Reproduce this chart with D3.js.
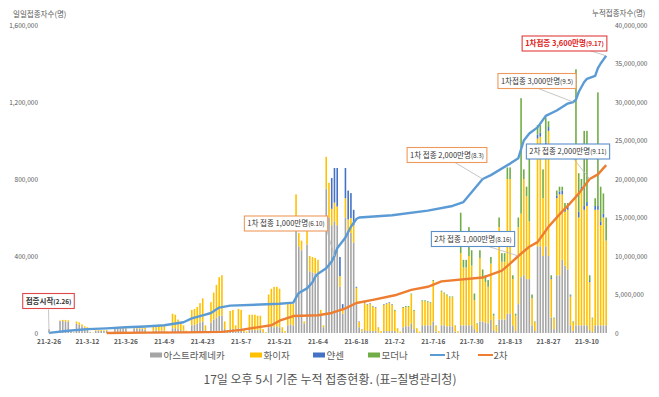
<!DOCTYPE html>
<html>
<head>
<meta charset="utf-8">
<script src="https://cdn.jsdelivr.net/npm/d3@7"></script>
<style>
  body { margin: 0; background: #fff; }
  text { font-family: "Noto Sans CJK KR", "Noto Sans", sans-serif; }
</style>
</head>
<body>
<div id="chart"></div>
<script>
// daily vaccinations (thousand persons), one line per week Fri..Thu, from 2021-02-26 to 2021-09-17
const astra = [
  19,2,1,5,62,62,60,  58,8,3,48,44,35,27,  22,4,1,10,11,11,10,  11,2,1,22,24,24,22,
  22,3,1,22,24,22,22,  18,4,2,12,14,12,12,  12,3,1,25,25,20,15,  12,4,2,40,42,48,55,
  60,15,4,55,70,80,90,  90,20,5,20,22,8,25,  25,5,2,15,15,15,15,  15,4,1,30,35,30,35,
  30,5,2,40,45,40,600,  450,430,50,460,320,315,310,  300,100,30,750,600,560,580,
  560,240,100,600,520,520,470,  150,30,8,15,12,10,10,  10,3,1,10,10,10,10,
  10,3,1,30,35,35,50,  20,4,1,40,40,40,40,  60,8,2,40,40,35,35,  35,8,2,40,40,40,40,
  40,20,5,60,60,55,50,  70,15,5,70,70,70,100,  100,40,10,150,290,300,280,
  280,40,10,450,450,400,450,  400,80,20,300,300,380,350,  330,40,10,40,40,40,40,
  40,15,5,40,40,40,40,  40
];
const pfizer = [
  0,0,0,0,3,6,8,  8,2,1,12,11,10,8,  8,2,1,4,4,4,4,  4,1,1,6,6,6,6,
  6,1,1,8,8,8,8,  10,2,1,23,26,26,28,  30,5,3,75,70,50,35,  28,8,3,80,83,87,100,
  120,25,6,105,140,170,200,  210,40,10,95,98,32,100,  95,15,6,80,80,80,75,  75,16,4,170,195,210,205,
  200,25,8,115,115,110,120,  70,50,10,70,80,80,80,  80,20,10,165,180,85,97,
  97,55,20,100,70,77,90,  85,28,11,140,135,142,127,  122,26,9,137,142,147,137,
  105,21,7,100,100,100,150,  95,20,7,125,125,120,115,  210,31,8,175,165,160,150,  150,30,8,375,300,300,360,
  310,150,40,330,230,210,190,  290,75,30,480,300,300,700,  700,240,80,400,330,500,430,
  300,140,45,560,570,300,520,  650,200,55,400,420,340,280,  310,150,45,860,560,700,600,
  620,250,70,600,600,520,560,  440
];
const janssen = [
  0,0,0,0,0,0,0,  0,0,0,0,0,0,0,  0,0,0,0,0,0,0,  0,0,0,0,0,0,0,
  0,0,0,0,0,0,0,  0,0,0,0,0,0,0,  0,0,0,0,0,0,0,  0,0,0,0,0,0,0,
  0,0,0,0,0,0,0,  0,0,0,0,0,0,0,  0,0,0,0,0,0,0,  0,0,0,0,0,0,0,
  0,0,0,0,0,0,0,  0,0,0,0,0,0,0,  0,0,0,0,0,160,180,
  200,100,30,157,150,130,80,  5,2,1,5,3,3,3,  3,1,0,3,3,3,3,
  0,0,0,0,0,0,0,  0,0,0,0,0,0,0,  0,0,0,0,0,0,0,  0,0,0,0,0,0,0,
  0,0,0,0,0,0,0,  0,0,0,0,0,0,0,  0,0,0,0,0,0,0,
  0,0,0,20,20,0,20,  20,5,0,15,15,20,20,  15,5,0,0,30,20,20,
  20,5,0,20,20,20,20,  0
];
const moderna = [
  0,0,0,0,0,0,0,  0,0,0,0,0,0,0,  0,0,0,0,0,0,0,  0,0,0,0,0,0,0,
  0,0,0,0,0,0,0,  0,0,0,0,0,0,0,  0,0,0,0,0,0,0,  0,0,0,0,0,0,0,
  0,0,0,0,0,0,0,  0,0,0,0,0,0,0,  0,0,0,0,0,0,0,  0,0,0,0,0,0,0,
  0,0,0,0,0,0,0,  0,0,0,0,0,0,0,  0,0,0,0,0,0,0,
  0,0,0,0,0,0,0,  0,0,0,0,0,0,0,  0,0,0,0,0,0,0,
  5,1,0,5,5,5,5,  5,1,0,5,5,5,5,  5,1,0,5,5,5,5,  5,2,0,210,40,40,150,
  80,35,5,40,40,35,35,  35,10,5,50,45,45,60,  60,20,10,50,600,50,50,
  385,20,5,50,40,150,130,  30,15,5,25,25,20,25,  20,5,5,470,200,40,390,
  370,30,5,40,590,180,105,  120
];

// cumulative persons (millions)
const dose1 = [
  ["2021-02-26",0.02],["2021-03-05",0.3],["2021-03-12",0.5],["2021-03-19",0.6],["2021-03-26",0.75],
  ["2021-04-02",0.85],["2021-04-09",1.0],["2021-04-16",1.4],["2021-04-19",1.9],["2021-04-23",2.3],
  ["2021-04-26",2.6],["2021-04-29",3.3],["2021-05-03",3.55],["2021-05-14",3.7],["2021-05-21",3.8],
  ["2021-05-26",3.95],["2021-05-27",4.6],["2021-05-28",5.2],["2021-05-31",5.8],["2021-06-02",6.6],
  ["2021-06-03",7.3],["2021-06-04",7.7],["2021-06-07",8.4],["2021-06-09",9.3],["2021-06-10",10.0],
  ["2021-06-11",11.0],["2021-06-14",12.4],["2021-06-16",13.8],["2021-06-18",14.8],["2021-06-19",15.0],
  ["2021-07-01",15.3],["2021-07-14",15.9],["2021-07-23",16.5],["2021-07-27",17.0],["2021-08-03",20.0],
  ["2021-08-06",20.5],["2021-08-13",22.0],["2021-08-16",22.7],["2021-08-18",25.0],["2021-08-20",25.9],
  ["2021-08-23",26.7],["2021-08-26",28.2],["2021-08-30",28.9],["2021-09-03",29.8],["2021-09-05",30.0],
  ["2021-09-06",30.3],["2021-09-07",31.3],["2021-09-09",32.6],["2021-09-10",33.0],["2021-09-13",33.4],
  ["2021-09-14",34.4],["2021-09-15",35.0],["2021-09-16",35.5],["2021-09-17",36.0]
];
const dose2 = [
  ["2021-03-19",0.0],["2021-04-02",0.05],["2021-04-16",0.08],["2021-04-30",0.15],["2021-05-07",0.4],
  ["2021-05-14",0.8],["2021-05-18",1.0],["2021-05-21",1.6],["2021-05-26",2.2],["2021-06-04",2.3],
  ["2021-06-09",2.6],["2021-06-14",3.2],["2021-06-18",3.9],["2021-06-24",4.3],["2021-07-02",4.9],
  ["2021-07-08",5.6],["2021-07-14",6.0],["2021-07-19",6.7],["2021-08-03",7.2],["2021-08-10",8.1],
  ["2021-08-13",9.0],["2021-08-16",10.0],["2021-08-20",11.2],["2021-08-23",11.8],["2021-08-27",13.8],
  ["2021-09-01",15.8],["2021-09-03",16.5],["2021-09-07",18.1],["2021-09-11",20.0],["2021-09-14",20.6],
  ["2021-09-17",21.8]
];

const xTickLabels = ["21-2-26","21-3-12","21-3-26","21-4-9","21-4-23","21-5-7","21-5-21","21-6-4",
                     "21-6-18","21-7-2","21-7-16","21-7-30","21-8-13","21-8-27","21-9-10"];
const leftTicks = [0, 400, 800, 1200, 1600];
const rightTicks = [0, 5, 10, 15, 20, 25, 30, 35, 40];
const vaccineKeys = ["astra", "pfizer", "janssen", "moderna"];
const vaccineNames = ["아스트라제네카", "화이자", "얀센", "모더나"];

const W = 659, H = 397;
const svg = d3.select("#chart").append("svg")
  .attr("width", W).attr("height", H)
  .style("display", "block");

const fmtDay = d3.timeFormat("%Y-%m-%d");
const days = d3.timeDay.range(new Date(2021, 1, 26), new Date(2021, 8, 18)).map(fmtDay);

const rows = days.map((d, i) => ({
  day: d, astra: astra[i], pfizer: pfizer[i], janssen: janssen[i], moderna: moderna[i]
}));

const color = d3.scaleOrdinal()
  .domain(vaccineKeys)
  .range(["#a5a5a5", "#ffc000", "#4472c4", "#70ad47"]);

const x = d3.scaleBand().domain(days).range([47.1, 608.1]).padding(0.42);
const cx = d => x(d) + x.bandwidth() / 2;
const yL = d3.scaleLinear().domain([0, 1600]).range([333, 25]);
const yR = d3.scaleLinear().domain([0, 40]).range([333, 25]);

// axis titles
svg.append("text").attr("x", 13).attr("y", 17)
  .style("font-size", "7.5px").style("fill", "#595959").text("일일접종자수(명)");
svg.append("text").attr("x", 592).attr("y", 16)
  .style("font-size", "7.5px").style("fill", "#595959").text("누적접종자수(명)");

// left axis labels
svg.append("g").selectAll("text").data(leftTicks).join("text")
  .attr("x", 38).attr("y", d => yL(d) + 2.5)
  .attr("text-anchor", "end")
  .style("font-size", "6.5px").style("fill", "#595959")
  .text(d => d3.format(",")(d * 1000));

// right axis labels
svg.append("g").selectAll("text").data(rightTicks).join("text")
  .attr("x", 615).attr("y", d => yR(d) + 2.5)
  .style("font-size", "6.5px").style("fill", "#595959")
  .text(d => d3.format(",")(d * 1e6));

// x tick labels every 14 days
svg.append("g").selectAll("text").data(xTickLabels).join("text")
  .attr("x", (d, i) => cx(days[i * 14]))
  .attr("y", 344)
  .attr("text-anchor", "middle")
  .style("font-size", "6.5px").style("font-weight", "bold").style("fill", "#595959")
  .text(d => d);

// stacked daily bars
const stacked = d3.stack().keys(vaccineKeys)(rows);
svg.append("g").selectAll("g").data(stacked).join("g")
  .attr("fill", d => color(d.key))
  .selectAll("rect").data(d => d).join("rect")
    .attr("x", d => x(d.data.day))
    .attr("width", x.bandwidth())
    .attr("y", d => yL(d[1]))
    .attr("height", d => yL(d[0]) - yL(d[1]));

// cumulative lines
const line = d3.line().x(d => cx(d[0])).y(d => yR(d[1]));
svg.append("path").datum(dose2)
  .attr("fill", "none").attr("stroke", "#ed7d31").attr("stroke-width", 2.4)
  .attr("stroke-linejoin", "round").attr("d", line);
svg.append("path").datum(dose1)
  .attr("fill", "none").attr("stroke", "#5b9bd5").attr("stroke-width", 2.4)
  .attr("stroke-linejoin", "round").attr("d", line);

// annotations
const notes = [
  {main: "접종시작", sub: "(2.26)", day: "2021-02-26", v: 0, cx: 48.5, cy: 301, from: [48.5, 309.5], border: "#e04848", bold: true},
  {main: "1차 접종 1,000만명", sub: "(6.10)", day: "2021-06-10", v: 10, cx: 286, cy: 223.5, from: [327, 231], border: "#ed9a5c"},
  {main: "1차 접종 2,000만명", sub: "(8.3)", day: "2021-08-03", v: 20, cx: 447, cy: 155, from: [455, 162.5], border: "#ed9a5c"},
  {main: "1차접종 3,000만명", sub: "(9.5)", day: "2021-09-05", v: 30, cx: 537, cy: 81, from: [537, 88], border: "#ed9a5c"},
  {main: "1차접종 3,600만명", sub: "(9.17)", day: "2021-09-17", v: 36, cx: 564.5, cy: 43.5, from: [588, 50], border: "#e03c3c", red: true},
  {main: "2차 접종 2,000만명", sub: "(9.11)", day: "2021-09-11", v: 20, cx: 568, cy: 151.5, from: [573, 158], border: "#5b8fc9"},
  {main: "2차 접종 1,000만명", sub: "(8.16)", day: "2021-08-16", v: 10, cx: 473, cy: 239, from: [487, 246], border: "#5b8fc9"}
];

const noteG = svg.append("g");
notes.forEach(n => {
  noteG.append("line")
    .attr("x1", n.from[0]).attr("y1", n.from[1])
    .attr("x2", cx(n.day)).attr("y2", yR(n.v))
    .attr("stroke", "#b8b8b8").attr("stroke-width", 0.8);
});
notes.forEach(n => {
  const g = noteG.append("g");
  const rect = g.append("rect");
  const t = g.append("text")
    .attr("x", n.cx).attr("y", n.cy + 2.8)
    .attr("text-anchor", "middle")
    .style("fill", n.red ? "#e02020" : "#333")
    .style("font-weight", n.red || n.bold ? "bold" : "normal");
  t.append("tspan").style("font-size", "7.5px").text(n.main);
  t.append("tspan").style("font-size", "6.3px").text(n.sub);
  const b = t.node().getBBox();
  rect.attr("x", b.x - 3).attr("y", n.cy - 7.5)
    .attr("width", b.width + 6).attr("height", 15)
    .attr("fill", "#fff").attr("stroke", n.border).attr("stroke-width", 1.1);
});

// legend
const legend = svg.append("g");
const swatchX = [150, 250, 313, 368];
vaccineKeys.forEach((k, i) => {
  legend.append("rect").attr("x", swatchX[i]).attr("y", 352.5)
    .attr("width", 12).attr("height", 5).attr("fill", color(k));
  legend.append("text").attr("x", swatchX[i] + 13.5).attr("y", 358.5)
    .style("font-size", "9.5px").style("fill", "#595959").text(vaccineNames[i]);
});
[["1차", "#5b9bd5", 430], ["2차", "#ed7d31", 478]].forEach(([label, c, lx]) => {
  legend.append("line").attr("x1", lx).attr("x2", lx + 15).attr("y1", 355).attr("y2", 355)
    .attr("stroke", c).attr("stroke-width", 2);
  legend.append("text").attr("x", lx + 15.5).attr("y", 358.5)
    .style("font-size", "9.5px").style("fill", "#595959").text(label);
});

// caption
svg.append("text").attr("x", 330).attr("y", 384)
  .attr("text-anchor", "middle")
  .style("font-size", "12px").style("fill", "#555")
  .text("17일 오후 5시 기준 누적 접종현황. (표=질병관리청)");
</script>
</body>
</html>
